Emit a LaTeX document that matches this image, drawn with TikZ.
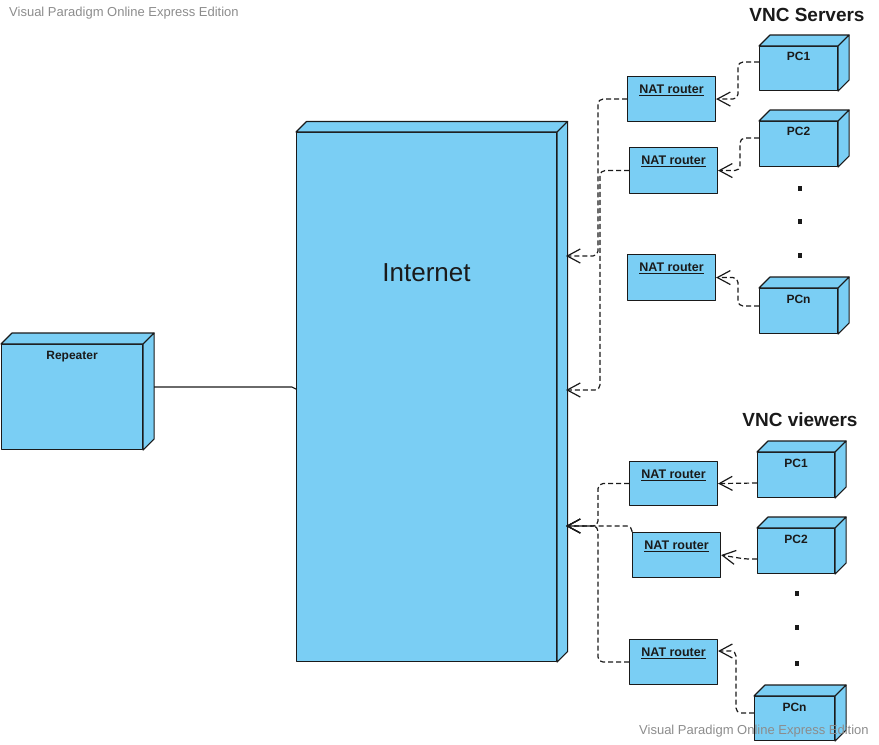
\documentclass[tikz,border=0pt]{standalone}
\usepackage{fontspec}
\setmainfont{Liberation Sans}
\usetikzlibrary{arrows.meta}
\definecolor{vpblue}{HTML}{7ACEF4}
\definecolor{wmgray}{HTML}{8C8C8C}
\definecolor{ink}{HTML}{1A1A1A}
\newcommand\cubeside[2]{%
  \draw[boxline] (#1.north west) -- ++(#2pt,#2pt) -- ([shift={(#2pt,#2pt)}]#1.north east) -- (#1.north east) -- cycle;
  \draw[boxline] (#1.north east) -- ++(#2pt,#2pt) -- ([shift={(#2pt,#2pt)}]#1.south east) -- (#1.south east) -- cycle;}
\begin{document}
\begin{tikzpicture}[x=1pt,y=-1pt,
  boxline/.style={draw=ink, fill=vpblue, line width=1.1pt, line join=round},
  cube/.style={boxline, inner sep=0pt, anchor=north west},
  pclabel/.style={anchor=base, inner sep=0pt, text=ink, font=\bfseries\fontsize{12}{14}\selectfont},
  natlabel/.style={anchor=base, inner sep=0pt, text=ink, font=\bfseries\fontsize{12.5}{14}\selectfont},
  dep/.style={draw=ink, line width=1.2pt, dash pattern=on 5pt off 3pt, rounded corners=5pt,
    -{Straight Barb[length=13pt,width=14pt,line width=1.2pt]}},
  title/.style={inner sep=0pt, text=ink, font=\bfseries\fontsize{19}{22}\selectfont},
  watermark/.style={anchor=west, inner sep=0pt, text=wmgray, font=\fontsize{13}{15}\selectfont}]
\useasboundingbox (0,0) rectangle (879,745);

% Internet
\node[cube, minimum width=260pt, minimum height=529pt,
  label={[anchor=base, inner sep=0pt, text=ink, font=\fontsize{26}{30}\selectfont, yshift=-149pt]north:Internet}] (inet) at (296,132) {};
\cubeside{inet}{10.5}

% Repeater
\node[cube, minimum width=141pt, minimum height=105pt,
  label={[pclabel, yshift=-15pt]north:Repeater}] (rep) at (1,344) {};
\cubeside{rep}{11}

% VNC servers
\node[title] (tserv) at (807,15) {VNC Servers};
\node[cube, minimum width=78pt, minimum height=44pt, label={[pclabel, yshift=-14.3pt]north:PC1}] (s1) at (759,46) {};
\cubeside{s1}{11}
\node[cube, minimum width=78pt, minimum height=45pt, label={[pclabel, yshift=-14.3pt]north:PC2}] (s2) at (759,121) {};
\cubeside{s2}{11}
\node[cube, minimum width=78pt, minimum height=45pt, label={[pclabel, yshift=-15.3pt]north:PCn}] (sn) at (759,288) {};
\cubeside{sn}{11}

\node[cube, minimum width=88pt, minimum height=45pt, label={[natlabel, yshift=-17.3pt]north:{\underline{NAT router}}}] (n1) at (627,76) {};
\node[cube, minimum width=88pt, minimum height=46pt, label={[natlabel, yshift=-17.3pt]north:{\underline{NAT router}}}] (n2) at (629,147) {};
\node[cube, minimum width=88pt, minimum height=46pt, label={[natlabel, yshift=-17.3pt]north:{\underline{NAT router}}}] (n3) at (627,254) {};

% VNC viewers
\node[title] (tview) at (800,420) {VNC viewers};
\node[cube, minimum width=77pt, minimum height=45pt, label={[pclabel, yshift=-15.3pt]north:PC1}] (v1) at (757,452) {};
\cubeside{v1}{11}
\node[cube, minimum width=77pt, minimum height=45pt, label={[pclabel, yshift=-15.3pt]north:PC2}] (v2) at (757,528) {};
\cubeside{v2}{11}
\node[cube, minimum width=80pt, minimum height=44pt, label={[pclabel, yshift=-15.3pt]north:PCn}] (vn) at (754,696) {};
\cubeside{vn}{11}

\node[cube, minimum width=88pt, minimum height=44pt, label={[natlabel, yshift=-17.3pt]north:{\underline{NAT router}}}] (w1) at (629,461) {};
\node[cube, minimum width=88pt, minimum height=45pt, label={[natlabel, yshift=-17.3pt]north:{\underline{NAT router}}}] (w2) at (632,532) {};
\node[cube, minimum width=88pt, minimum height=45pt, label={[natlabel, yshift=-17.3pt]north:{\underline{NAT router}}}] (w3) at (629,639) {};

% ellipsis dots
\foreach \yy in {186,219,253} \fill[ink] (798,\yy) rectangle ++(4,5);
\foreach \yy in {591,625,661} \fill[ink] (795,\yy) rectangle ++(4,5);

% arrival points on the Internet box
\coordinate (ia) at (566,256);
\coordinate (ib) at (566,390);
\coordinate (ic) at (566,526);

% repeater link
\draw[draw=ink, line width=1.2pt] ([shift={(11pt,10pt)}]rep.east) coordinate (rs) -- ([xshift=-4pt]rs -| inet.west) to[out=0,in=180] ([yshift=-2pt]rs -| inet.west);

% server side connectors
\draw[dep] ([yshift=-16pt]s1.north west) -- ++(-21,0) |- (n1.east);
\draw[dep] ([yshift=-17pt]s2.north west) -- ++(-19,0) |- (n2.east);
\draw[dep] ([yshift=-18pt]sn.north west) -- ++(-21,0) |- (n3.east);
\draw[dep] (n1.west) -- ++(-29,0) |- (ia);
\draw[dep] (n2.west) -- ++(-29,0) |- (ib);

% viewer side connectors
\draw[dep] ([yshift=-31pt]v1.north west) -- (w1.east);
\draw[dep] ([yshift=-31pt]v2.north west) -- ++(-12,0) -- (w2.east);
\draw[dep] ([yshift=-17pt]vn.north west) -- ++(-18,0) |- ([yshift=-12pt]w3.north east);
\draw[dep] (w1.west) -- ++(-31,0) |- (ic);
\draw[dep] (w3.west) -- ++(-31,0) |- (ic);
\draw[dep] (w2.north west) -- ++(0,-6) -- (ic);

% watermarks
\node[watermark] (wm1) at (9,13) {Visual Paradigm Online Express Edition};
\node[watermark] (wm2) at (639,731) {Visual Paradigm Online Express Edition};
\end{tikzpicture}
\end{document}
